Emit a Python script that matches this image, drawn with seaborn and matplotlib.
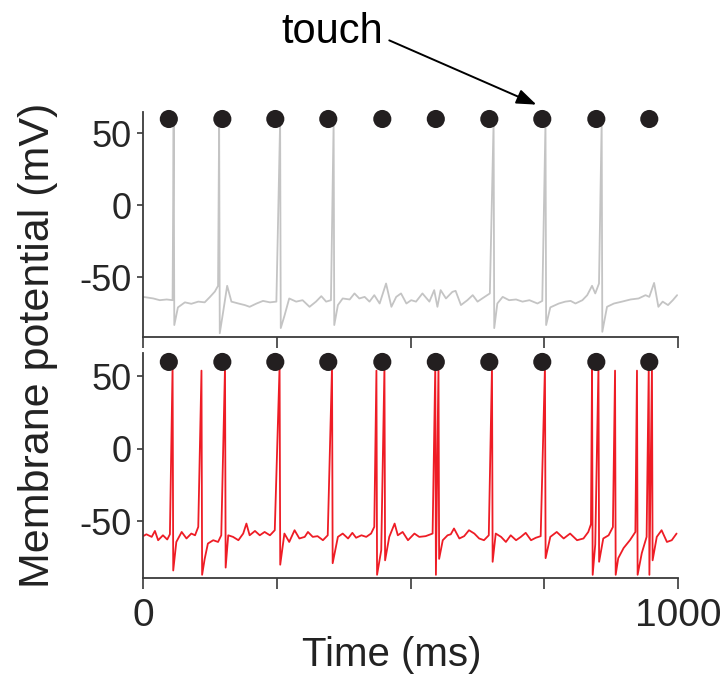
import matplotlib
matplotlib.use("Agg")
import matplotlib.pyplot as plt
import seaborn as sns
import pandas as pd

# ---- touch stimulus times (ms) ----
touch_t = [48, 148, 247, 346, 447, 547, 647, 746, 847, 946]
touch_level = 60  # mV, row of markers above the traces

# ---- control trace (gray): sub-threshold membrane potential ----
ctrl_t = [0, 19, 31, 44, 55, 65, 78, 90, 103, 115, 125, 134, 140, 150, 157, 165, 178,
          190, 199, 212, 224, 237, 249, 264, 273, 286, 298, 311, 323, 333, 342, 351,
          364, 373, 386, 395, 404, 414, 423, 432, 442, 454, 464, 473, 482, 492, 501,
          510, 522, 535, 544, 550, 556, 566, 578, 584, 594, 606, 616, 625, 637, 648,
          662, 672, 684, 697, 709, 722, 737, 746, 761, 777, 789, 799, 808, 821, 830,
          839, 845, 852, 867, 880, 895, 911, 926, 939, 946, 955, 963, 971, 981, 990, 998]
ctrl_v = [-63.7, -64.8, -66, -65.5, -66, -71, -67.5, -68.5, -67, -67.5, -63.7, -60, -56,
          -73, -56, -67, -68.3, -69.4, -70.6, -68.3, -66.5, -67.5, -67, -77, -64.8, -67,
          -66, -70.6, -67, -63.2, -67, -66, -69.4, -64.8, -65.5, -61.3, -64.8, -63.7, -67,
          -62.5, -68.3, -54.4, -70.6, -63.7, -61.3, -68.3, -66, -67, -61.3, -67, -59,
          -70.6, -59, -64.8, -60.2, -59.5, -69.4, -66, -62.5, -67, -64, -61.3, -68.3,
          -63.7, -66, -65.5, -67, -66, -68.3, -66.5, -71, -68.3, -67, -66.5, -68.3, -66,
          -62.5, -56, -61.3, -54.4, -70.6, -68.3, -67, -65.5, -64.8, -62.5, -63.7, -54,
          -70.6, -67, -69.4, -66, -62.5]
# control action potentials
ctrl_spk_t = [57, 142, 256, 356, 655, 752, 857]
ctrl_spk_peak = [58, 58, 58, 58, 58, 58, 58]
ctrl_spk_trough = [-83.3, -89, -85.4, -83.3, -85.4, -83.3, -88]

# ---- stimulated trace (red) ----
stim_t = [0, 6, 16, 22, 28, 37, 45, 50, 62, 72, 81, 90, 97, 103, 115, 121, 131, 140, 146,
          159, 168, 178, 187, 193, 199, 209, 218, 227, 237, 246, 264, 273, 283, 292, 302,
          308, 317, 326, 336, 345, 364, 373, 383, 391, 398, 408, 417, 426, 432, 445, 460,
          470, 476, 485, 495, 501, 507, 516, 528, 541, 560, 569, 575, 581, 591, 600, 609,
          619, 628, 637, 646, 659, 669, 678, 687, 697, 706, 715, 725, 734, 743, 761, 773,
          786, 798, 811, 823, 832, 837, 845, 860, 870, 878, 888, 898, 910, 920, 932, 941,
          960, 969, 979, 988, 997]
stim_v = [-60.3, -59, -60.8, -56.7, -63.1, -59.7, -62.6, -59, -64.3, -57.4, -61.9, -58.5,
          -59.7, -53.9, -76, -65.4, -63.1, -64.3, -59.7, -59.7, -60.8, -63.1, -58.5, -51.6,
          -59.7, -56.7, -59.7, -57.4, -59.7, -56.2, -58.5, -64.3, -56.2, -61.9, -60.8, -57.4,
          -60.8, -60.3, -63.1, -59.7, -60.8, -58.5, -61.9, -58, -61.4, -59.7, -60.8, -58.5,
          -53.9, -70, -60.8, -51.6, -59.7, -57.4, -63.1, -60.8, -58.5, -60.8, -60.3, -58.5,
          -63.1, -59.7, -59, -55, -61.9, -60.3, -56.2, -58.5, -61.9, -63.1, -59.7, -58.5,
          -60.8, -64.3, -59.7, -63.1, -60.8, -58, -63.1, -61.4, -60.3, -60.8, -57.4, -61.9,
          -58.5, -63.1, -61.9, -57.4, -52, -66, -61.9, -59.7, -54, -75.5, -68.5, -63, -57.4,
          -72, -60.8, -60.8, -56.2, -64.3, -63.1, -58.5]
stim_spk_t = [55, 109, 153, 255, 353, 436, 451, 546, 552, 652, 751, 839, 851, 882, 923, 945, 951]
stim_spk_peak = [57, 54, 57, 57, 57, 54, 57, 57, 57, 57, 57, 55, 57, 54, 54, 57, 57]
stim_spk_trough = [-84, -87, -82, -80, -79, -87, -77, -87, -76, -78, -75.5, -87, -78, -87,
                   -87, -87, -77]

# ---- axis text ----
y_ticks = [-50, 0, 50]
y_ticklabels = ["-50", "0", "50"]
x_ticks = [0, 250, 500, 750, 1000]
x_ticklabels = ["0", "", "", "", "1000"]


def trace_frame(base_t, base_v, spk_t, spk_peak, spk_trough):
    """Merge the sub-threshold samples with the spike peaks and after-hyperpolarisations."""
    t = list(base_t) + list(spk_t) + [s + 1.2 for s in spk_t]
    v = list(base_v) + list(spk_peak) + list(spk_trough)
    return pd.DataFrame({"t": t, "v": v}).sort_values("t").reset_index(drop=True)


ctrl = trace_frame(ctrl_t, ctrl_v, ctrl_spk_t, ctrl_spk_peak, ctrl_spk_trough)
stim = trace_frame(stim_t, stim_v, stim_spk_t, stim_spk_peak, stim_spk_trough)
touches = pd.DataFrame({"t": touch_t, "v": [touch_level] * len(touch_t)})

sns.set_style("ticks")
plt.rcParams["font.family"] = ["Liberation Sans", "DejaVu Sans"]

fig = plt.figure(figsize=(7.23, 6.77), dpi=100)
ax_top = fig.add_axes([0.198, 0.502, 0.740, 0.332])
ax_bot = fig.add_axes([0.198, 0.146, 0.740, 0.332])

spine_col = "#3a3a3a"
for ax, df, col, ylim in [(ax_top, ctrl, "#c4c4c4", (-91.7, 64.6)),
                          (ax_bot, stim, "#ee1c25", (-89.3, 65.9))]:
    sns.lineplot(data=df, x="t", y="v", estimator=None, sort=True, color=col,
                 linewidth=1.3, ax=ax)
    sns.scatterplot(data=touches, x="t", y="v", color="#231f20", s=170,
                    edgecolor="none", ax=ax, clip_on=False, zorder=5)
    ax.set_xlim(0, 1000)
    ax.set_ylim(*ylim)
    ax.set_yticks(y_ticks)
    ax.set_yticklabels(y_ticklabels)
    ax.set_xticks(x_ticks)
    ax.set_xlabel("")
    ax.set_ylabel("")
    sns.despine(ax=ax)
    for side in ("left", "bottom"):
        ax.spines[side].set_color(spine_col)
        ax.spines[side].set_linewidth(1.3)
    ax.tick_params(axis="y", direction="out", length=4, width=1.2, color=spine_col,
                   labelsize=26, pad=4)
    ax.tick_params(axis="x", direction="out", length=8, width=1.2, color=spine_col,
                   labelsize=28, pad=6)

ax_top.set_xticklabels([])
ax_bot.set_xticklabels(x_ticklabels)

fig.text(0.052, 0.49, "Membrane potential (mV)", rotation=90, ha="center",
         va="center", fontsize=31, color="#222222")
fig.text(0.542, 0.033, "Time (ms)", ha="center", va="center", fontsize=29,
         color="#222222")

ax_top.annotate("touch", xy=(735, 70), xycoords="data",
                xytext=(0.46, 0.953), textcoords="figure fraction",
                ha="center", va="center", fontsize=30, color="black",
                annotation_clip=False,
                arrowprops=dict(arrowstyle="-|>,head_length=0.4,head_width=0.15",
                                color="black", lw=1.4, shrinkA=2, shrinkB=0,
                                relpos=(1.0, 0.35)))

fig.savefig("out.png", dpi=100)
